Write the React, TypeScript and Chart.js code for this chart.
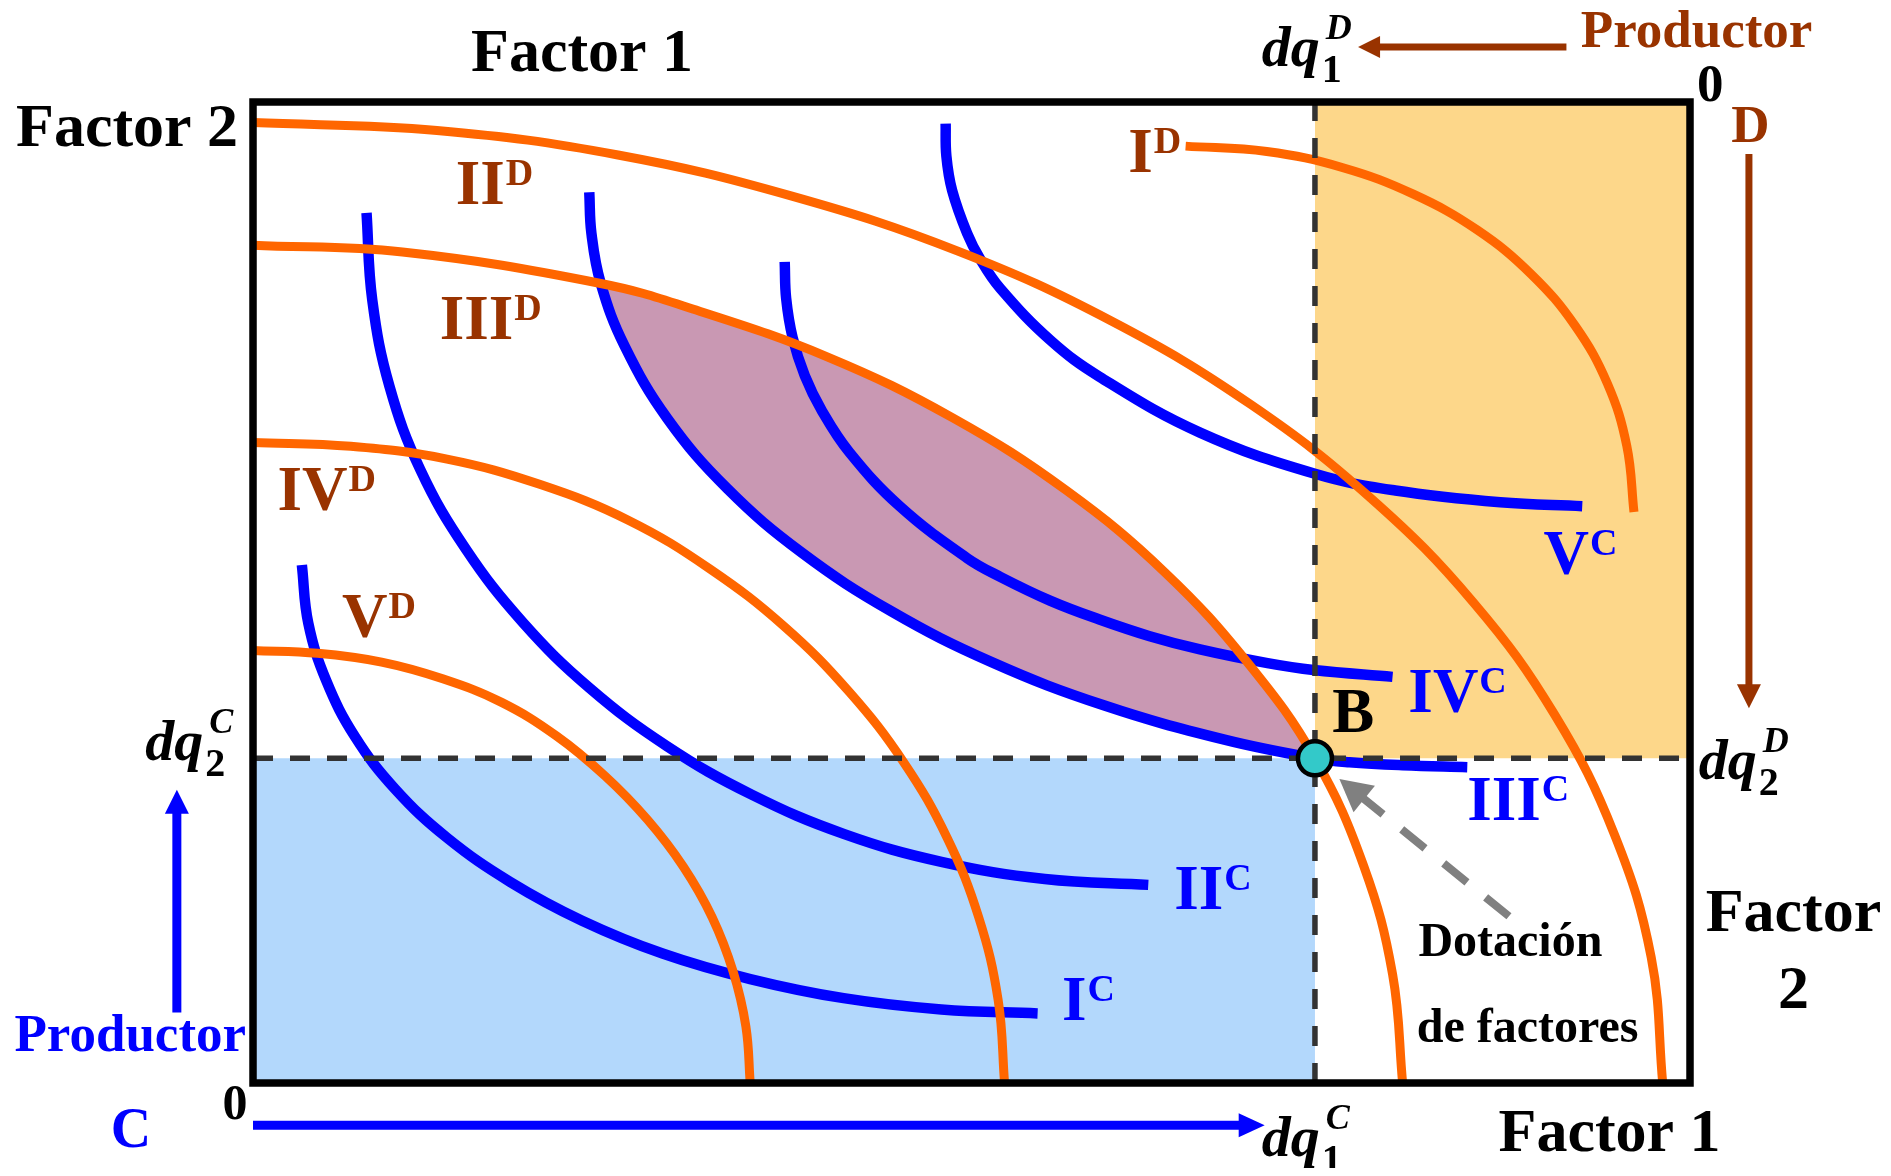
import React, { useEffect, useRef } from "react";
import { Chart, registerables } from "chart.js";

Chart.register(...registerables);

// ---------------- data ----------------
// Edgeworth box: factor 1 on x (0..100), factor 2 on y (0..100), origin of producer C bottom-left
const BOX_X = [0, 100];
const BOX_Y = [0, 100];
const ENDOWMENT_B = [73.9, 33.1];
const LENS_START = [24.2, 81.5];

// producer D isoquants (orange)
const curveID = [[64.9, 95.5], [70.55, 94.95], [75.85, 93.3], [80.75, 90.6], [85.2, 86.95], [88.95, 82.45], [92.0, 77.2], [94.25, 71.3], [95.6, 64.95], [96.1, 58.2]];
const curveIID = [[0, 97.9], [12.8, 97.1], [25.4, 94.6], [37.5, 90.4], [49.05, 84.8], [59.7, 77.7], [69.4, 69.2], [77.8, 59.6], [84.95, 48.95], [90.6, 37.5], [94.75, 25.3], [97.3, 12.8], [98.1, 0]];
const curveIIID = [[0, 85.4], [10.4, 84.7], [24.2, 81.5], [30.6, 78.9], [40.0, 74.0], [48.7, 67.8], [56.6, 60.4], [63.5, 52.0], [69.3, 42.7], [73.9, 33.1], [77.3, 22.1], [79.3, 11.1], [80.0, 0]];
const curveIVD = [[0, 65.3], [6.8, 64.9], [13.5, 63.6], [20.0, 61.0], [26.15, 57.35], [31.8, 52.4], [37.0, 46.5], [41.5, 39.85], [45.3, 32.65], [48.3, 25.0], [50.5, 16.9], [51.85, 8.5], [52.3, 0]];
const curveVD = [[0, 44.1], [4.5, 43.8], [8.95, 42.9], [13.2, 41.2], [17.3, 38.8], [21.1, 35.4], [24.5, 31.3], [27.45, 26.85], [29.95, 22.05], [31.95, 16.9], [33.4, 11.4], [34.3, 5.75], [34.6, 0]];

// producer C isoquants (blue)
const curveIC = [[3.4, 52.8], [3.85, 46.85], [5.1, 41.0], [7.1, 35.3], [9.9, 29.95], [13.5, 25.0], [17.9, 20.5], [22.9, 16.55], [28.5, 13.2], [34.6, 10.6], [41.1, 8.65], [47.9, 7.5], [54.6, 7.1]];
const curveIIC = [[7.9, 88.7], [8.3, 79.8], [9.5, 71.0], [11.65, 62.5], [14.8, 54.45], [18.75, 47.0], [23.4, 40.3], [28.8, 34.35], [34.7, 29.4], [41.1, 25.4], [47.9, 22.55], [55.1, 20.8], [62.3, 20.2]];
const curveIIIC = [[23.4, 90.8], [23.55, 86.6], [24.2, 81.5], [25.85, 75.15], [28.85, 67.7], [33.0, 60.6], [38.2, 54.05], [44.4, 48.1], [51.4, 42.9], [59.2, 38.5], [67.6, 35.0], [73.9, 33.1], [76.3, 32.7], [80.0, 32.4], [84.5, 32.2]];
const curveIVC = [[37.0, 83.7], [37.1, 80.0], [37.55, 76.0], [38.4, 72.1], [39.6, 68.5], [41.5, 64.3], [45.0, 58.8], [49.7, 53.5], [52.0, 51.6], [55.5, 49.15], [58.9, 47.25], [62.4, 45.55], [65.9, 44.2], [70.6, 42.8], [73.8, 42.1], [79.3, 41.4]];
const curveVC = [[48.2, 97.8], [48.25, 94.5], [48.65, 91.0], [49.7, 86.6], [50.6, 84.0], [52.0, 81.0], [55.5, 75.7], [58.9, 72.0], [65.9, 66.3], [73.9, 62.1], [79.5, 60.4], [86.8, 59.2], [92.5, 58.8]];

const NUMERALS = ["I", "II", "III", "IV", "V"];
const CURVES_D = [curveID, curveIID, curveIIID, curveIVD, curveVD];
const CURVES_C = [curveIC, curveIIC, curveIIIC, curveIVC, curveVC];

// ---------------- layout / style ----------------
const W = 1875;
const H = 1160;
const X_MIN = -17.05, X_MAX = 113.43, Y_MIN = -8.66, Y_MAX = 109.58;

const ORANGE = "#FF6600";
const BLUE = "#0000FF";
const BROWN = "#993300";
const LIGHT_BLUE = "#B3D8FC";
const LIGHT_ORANGE = "#FDD78A";
const PURPLE = "#C998B3";
const DASH = "#333333";
const SERIF = '"Liberation Serif", "Times New Roman", serif';

// label anchors in data coordinates (baseline-left)
const LABEL_AT_D = [[60.9, 92.9], [14.1, 89.6], [13.0, 75.8], [1.7, 58.4], [6.2, 45.5]];
const LABEL_AT_C = [[56.3, 6.4], [64.1, 17.7], [84.5, 26.8], [80.4, 37.8], [89.8, 51.9]];

type Txt = { t: string; at: number[]; size: number; color: string; align: CanvasTextAlign };
const TEXTS: Txt[] = [
  { t: "Factor 1", at: [22.9, 103.2], size: 62, color: "#000", align: "center" },
  { t: "Factor 2", at: [-1.04, 95.5], size: 62, color: "#000", align: "right" },
  { t: "Factor 1", at: [94.4, -6.9], size: 62, color: "#000", align: "center" },
  { t: "Factor", at: [107.2, 15.5], size: 62, color: "#000", align: "center" },
  { t: "2", at: [107.2, 7.6], size: 62, color: "#000", align: "center" },
  { t: "Dotación", at: [87.5, 13.0], size: 48, color: "#000", align: "center" },
  { t: "de factores", at: [88.7, 4.2], size: 48, color: "#000", align: "center" },
  { t: "Productor", at: [92.4, 105.6], size: 53, color: BROWN, align: "left" },
  { t: "Productor", at: [-16.6, 3.3], size: 53, color: BLUE, align: "left" },
  { t: "C", at: [-8.5, -6.5], size: 56, color: BLUE, align: "center" },
  { t: "0", at: [-1.25, -3.7], size: 50, color: "#000", align: "center" },
  { t: "0", at: [101.4, 100.1], size: 53, color: "#000", align: "center" },
  { t: "D", at: [104.2, 95.9], size: 53, color: BROWN, align: "center" },
  { t: "B", at: [75.1, 35.8], size: 63, color: "#000", align: "left" },
];

const MATH = [
  { sub: "1", sup: "D", at: [70.2, 103.7] },
  { sub: "2", sup: "C", at: [-7.5, 32.9] },
  { sub: "2", sup: "D", at: [100.6, 31.0] },
  { sub: "1", sup: "C", at: [70.2, -7.4] },
];

const ARROWS = [
  { from: [91.4, 105.6], to: [76.9, 105.6], w: 7, head: 22, half: 11, color: BROWN },
  { from: [104.1, 94.7], to: [104.1, 38.2], w: 7, head: 24, half: 12, color: BROWN },
  { from: [-5.3, 7.2], to: [-5.3, 29.9], w: 9, head: 24, half: 12, color: BLUE },
  { from: [0, -4.3], to: [70.4, -4.3], w: 9, head: 26, half: 12, color: BLUE },
  { from: [87.4, 17.0], to: [75.6, 31.0], w: 8, head: 32, half: 17, color: "#808080", dash: [30, 24] },
];

const pts = (a: number[][]) => a.map(([x, y]) => ({ x, y }));

function drawArrow(ctx: CanvasRenderingContext2D, x1: number, y1: number, x2: number, y2: number, a: any) {
  const ang = Math.atan2(y2 - y1, x2 - x1);
  const c = Math.cos(ang), s = Math.sin(ang);
  const bx = x2 - c * a.head, by = y2 - s * a.head;
  ctx.save();
  ctx.strokeStyle = a.color;
  ctx.fillStyle = a.color;
  ctx.lineWidth = a.w;
  ctx.lineCap = "butt";
  if (a.dash) ctx.setLineDash(a.dash);
  ctx.beginPath();
  ctx.moveTo(x1, y1);
  ctx.lineTo(bx + c * 2, by + s * 2);
  ctx.stroke();
  ctx.setLineDash([]);
  ctx.beginPath();
  ctx.moveTo(x2, y2);
  ctx.lineTo(bx - s * a.half, by + c * a.half);
  ctx.lineTo(bx + s * a.half, by - c * a.half);
  ctx.closePath();
  ctx.fill();
  ctx.restore();
}

const annotations = {
  id: "boxAnnotations",
  afterDatasetsDraw(chart: any) {
    const { ctx } = chart;
    const sx = chart.scales.x, sy = chart.scales.y;
    const px = (v: number) => sx.getPixelForValue(v);
    const py = (v: number) => sy.getPixelForValue(v);

    ARROWS.forEach((a) => drawArrow(ctx, px(a.from[0]), py(a.from[1]), px(a.to[0]), py(a.to[1]), a));

    ctx.save();
    ctx.textBaseline = "alphabetic";
    TEXTS.forEach((t) => {
      ctx.font = `bold ${t.size}px ${SERIF}`;
      ctx.fillStyle = t.color;
      ctx.textAlign = t.align;
      ctx.fillText(t.t, px(t.at[0]), py(t.at[1]));
    });

    // curve labels: numeral + superscript
    const curveLabel = (num: string, sup: string, at: number[], color: string) => {
      const x = px(at[0]), y = py(at[1]);
      ctx.textAlign = "left";
      ctx.fillStyle = color;
      ctx.font = `bold 63px ${SERIF}`;
      ctx.fillText(num, x, y);
      const w = ctx.measureText(num).width;
      ctx.font = `bold 38px ${SERIF}`;
      ctx.fillText(sup, x + w + 1, y - 19);
    };
    NUMERALS.forEach((n, i) => curveLabel(n, "D", LABEL_AT_D[i], BROWN));
    NUMERALS.forEach((n, i) => curveLabel(n, "C", LABEL_AT_C[i], BLUE));

    // dq labels
    MATH.forEach((m) => {
      const x = px(m.at[0]), y = py(m.at[1]);
      ctx.textAlign = "left";
      ctx.fillStyle = "#000";
      ctx.font = `italic bold 58px ${SERIF}`;
      ctx.fillText("dq", x, y);
      const w = ctx.measureText("dq").width;
      ctx.font = `bold 40px ${SERIF}`;
      ctx.fillText(m.sub, x + w + 2, y + 16);
      ctx.font = `italic bold 36px ${SERIF}`;
      ctx.fillText(m.sup, x + w + 6, y - 27);
    });
    ctx.restore();
  },
};

export default function App() {
  const ref = useRef<HTMLCanvasElement>(null);

  useEffect(() => {
    if (!ref.current) return;
    const [bx, by] = ENDOWMENT_B;
    const inLens = (p: number[]) => p[0] >= LENS_START[0] && p[0] <= bx;
    const lensUpper = curveIIID.filter(inLens);
    const lensLower = curveIIIC.filter(inLens);

    const line = (data: number[][], color: string, width: number, order: number, extra: any = {}) => ({
      data: pts(data),
      borderColor: color,
      borderWidth: width,
      pointRadius: 0,
      fill: false,
      tension: 0.4,
      order,
      ...extra,
    });

    const datasets: any[] = [
      // lens (mutually beneficial region) between III^D and III^C
      { data: pts(lensUpper), borderWidth: 0, pointRadius: 0, tension: 0.4, fill: "+1", backgroundColor: PURPLE, order: 20 },
      { data: pts(lensLower), borderWidth: 0, pointRadius: 0, tension: 0.4, fill: false, order: 20 },
      // endowment rectangles
      { data: pts([[BOX_X[0], by], [bx, by]]), borderWidth: 0, pointRadius: 0, tension: 0, fill: "origin", backgroundColor: LIGHT_BLUE, order: 20 },
      { data: pts([[bx, BOX_Y[1]], [BOX_X[1], BOX_Y[1]]]), borderWidth: 0, pointRadius: 0, tension: 0, fill: { value: by }, backgroundColor: LIGHT_ORANGE, order: 20 },
      ...CURVES_C.map((c) => line(c, BLUE, 10.5, 6)),
      ...CURVES_D.map((c) => line(c, ORANGE, 9, 5)),
      // box
      line([[BOX_X[0], BOX_Y[0]], [BOX_X[1], BOX_Y[0]], [BOX_X[1], BOX_Y[1]], [BOX_X[0], BOX_Y[1]], [BOX_X[0], BOX_Y[0]]], "#000", 7.5, 2, { tension: 0, borderJoinStyle: "miter", borderCapStyle: "square" }),
      // endowment dashed lines
      line([[bx, BOX_Y[0]], [bx, BOX_Y[1]]], DASH, 5.5, 3, { tension: 0, borderDash: [20, 17] }),
      line([[BOX_X[0], by], [BOX_X[1], by]], DASH, 5.5, 3, { tension: 0, borderDash: [20, 17] }),
      // point B
      { data: pts([ENDOWMENT_B]), showLine: false, pointRadius: 17, pointBorderWidth: 4.5, pointBackgroundColor: "#33C9C9", pointBorderColor: "#000", order: 0 },
    ];

    const chart = new Chart(ref.current, {
      type: "line",
      data: { datasets },
      options: {
        responsive: false,
        animation: false,
        devicePixelRatio: 1,
        events: [],
        layout: { padding: 0, autoPadding: false } as any,
        plugins: {
          legend: { display: false },
          tooltip: { enabled: false },
          title: { display: false },
          filler: { drawTime: "beforeDatasetsDraw", propagate: false },
        } as any,
        scales: {
          x: { type: "linear", min: X_MIN, max: X_MAX, display: false },
          y: { type: "linear", min: Y_MIN, max: Y_MAX, display: false },
        },
        elements: { line: { borderCapStyle: "butt" } },
      },
      plugins: [annotations],
    });
    return () => chart.destroy();
  }, []);

  return <canvas ref={ref} width={W} height={H} style={{ display: "block", width: W, height: H }} />;
}
